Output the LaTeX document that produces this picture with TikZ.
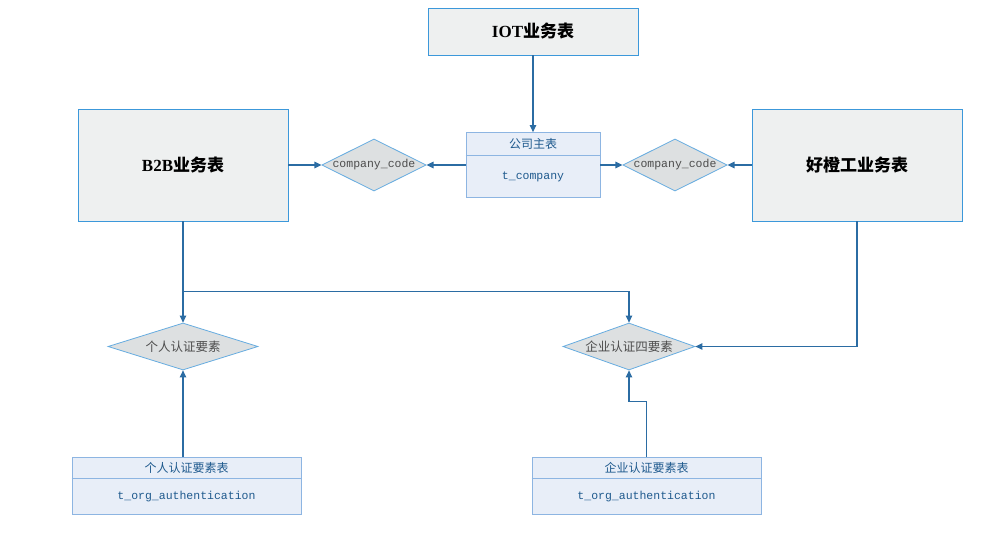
\documentclass[tikz,border=0pt]{standalone}
\usepackage{fontspec}
\setmainfont{Liberation Serif}
\setmonofont{Liberation Mono}
\newfontfamily\cjk{Noto Sans CJK SC}
\usetikzlibrary{shapes.geometric,arrows.meta}

\definecolor{linec}{HTML}{2B6CA3}
\definecolor{boxline}{HTML}{3C98DA}
\definecolor{boxfill}{HTML}{EEF0F0}
\definecolor{diafill}{HTML}{DDE0E1}
\definecolor{dialine}{HTML}{66ACE0}
\definecolor{tabfill}{HTML}{E8EEF8}
\definecolor{tabline}{HTML}{8DB5E2}
\definecolor{tabtext}{HTML}{1F5A8E}
\definecolor{diatext}{HTML}{4D4D4D}

\tikzset{
  bizbox/.style={draw=boxline, fill=boxfill, line width=0.9pt,
    minimum width=210pt, font=\fontsize{17}{20}\selectfont},
  relation/.style={diamond, draw=dialine, fill=diafill, line width=0.8pt,
    inner sep=0pt, text=diatext},
  table/.style={draw=tabline, fill=tabfill, line width=0.8pt},
  tabtitle/.style={text=tabtext, font=\cjk\fontsize{12}{14}\selectfont},
  tabfield/.style={text=tabtext, font=\ttfamily\fontsize{11.5}{13}\selectfont},
  link/.style={draw=linec, line width=1.1pt, -{Triangle[length=7pt,width=6.5pt]}}
}

\begin{document}
\begin{tikzpicture}[x=1pt, y=-1pt]
  \useasboundingbox[fill=white] (0,0) rectangle (996,538);

  % business tables
  \node[bizbox, minimum height=47pt]  (iot) at (533,31.5) {\textbf{IOT}{\cjk\bfseries 业务表}};
  \node[bizbox, minimum height=112pt] (b2b) at (183,165)  {\textbf{B2B}{\cjk\bfseries 业务表}};
  \node[bizbox, minimum height=112pt] (hc)  at (857,165)  {{\cjk\bfseries 好橙工业务表}};

  % company table
  \node[table, minimum width=134pt, minimum height=65pt] (tcomp) at (533,165) {};
  \draw[tabline, line width=0.8pt] ([yshift=-23pt]tcomp.north west) -- ([yshift=-23pt]tcomp.north east);
  \node[tabtitle] (tcompT) at ([yshift=-11.5pt]tcomp.north) {公司主表};
  \node[tabfield] (tcompF) at ([yshift=21pt]tcomp.south) {t\_company};

  % authentication tables
  \foreach \nm/\x/\title in {ptab/186.5/个人认证要素表, etab/646.5/企业认证要素表} {
    \node[table, minimum width=229pt, minimum height=57pt] (\nm) at (\x,485.5) {};
    \draw[tabline, line width=0.8pt] ([yshift=-22pt]\nm.north west) -- ([yshift=-22pt]\nm.north east);
    \node[tabtitle] (\nm T) at ([yshift=-11pt]\nm.north) {\title};
    \node[tabfield] (\nm F) at ([yshift=17.5pt]\nm.south) {t\_org\_authentication};
  }

  % relations
  \node[relation, aspect=2, minimum width=100pt, minimum height=48pt,
        font=\ttfamily\fontsize{11.5}{13}\selectfont] (ccl) at (374,165) {company\_code};
  \node[relation, aspect=2, minimum width=100pt, minimum height=52pt,
        font=\ttfamily\fontsize{11.5}{13}\selectfont] (ccr) at (675,165) {company\_code};
  \node[relation, aspect=3, minimum width=150pt, minimum height=47pt,
        font=\cjk\fontsize{12.5}{14}\selectfont] (pauth) at (183,346.5) {个人认证要素};
  \node[relation, aspect=2.8, minimum width=132pt, minimum height=47pt,
        font=\cjk\fontsize{12.5}{14}\selectfont] (eauth) at (629,346.5) {企业认证四要素};

  % connectors
  \draw[link] (iot) -- (tcomp);
  \draw[link] (tcomp) -- (ccl);
  \draw[link] (b2b) -- (ccl);
  \draw[link] (tcomp) -- (ccr);
  \draw[link] (hc) -- (ccr);
  \draw[link] (b2b) -- (pauth);
  \draw[link] (b2b.south) ++(0,70) -| (eauth);
  \draw[link] (hc) |- (eauth);
  \draw[link] (ptab.north -| pauth) -- (pauth);
  \draw[link] (etab.north) -- ++(0,-55) -| (eauth);
\end{tikzpicture}
\end{document}
